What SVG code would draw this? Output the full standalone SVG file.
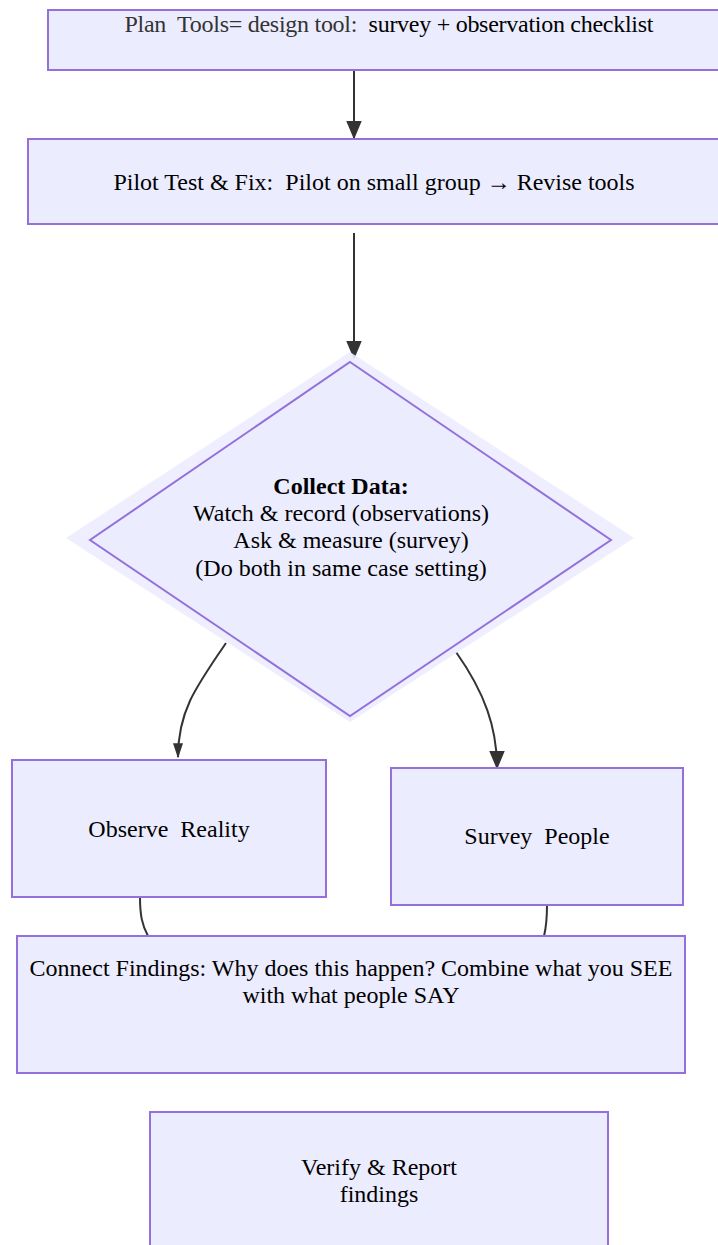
<svg xmlns="http://www.w3.org/2000/svg" width="718" height="1245" viewBox="0 0 718 1245">
<style>
.box{fill:#ECECFF;stroke:#9370DB;stroke-width:2}
.t{font-family:"Liberation Serif","Times New Roman",serif;font-size:24px;fill:#000;text-anchor:middle;white-space:pre}
.e{fill:none;stroke:#333;stroke-width:2}
</style>
<defs>
<marker id="ahb" viewBox="0 0 12 10" refX="11" refY="5" markerWidth="19" markerHeight="16" markerUnits="userSpaceOnUse" orient="auto">
<path d="M0,0 L12,5 L0,10 z" fill="#333"/>
</marker>
<marker id="ahs" viewBox="0 0 12 8" refX="11" refY="4" markerWidth="15" markerHeight="10" markerUnits="userSpaceOnUse" orient="auto">
<path d="M0,0 L12,4 L0,8 z" fill="#333"/>
</marker>
</defs>
<g id="connectors">
<path class="e" d="M354,70 L354,138" marker-end="url(#ahb)"/>
<path class="e" d="M354,233 L354,358" marker-end="url(#ahb)"/>
<path class="e" d="M226,643 C195,688 178,712 178,757" marker-end="url(#ahs)"/>
<path class="e" d="M456,652 C485,693 497,728 497,768" marker-end="url(#ahb)"/>
<path class="e" d="M140,897 C140,915 142,925 148,936"/>
<path class="e" d="M547,905 C547,920 546,928 544,936"/>
</g>
<g id="plan">
<rect class="box" x="48" y="10" width="690" height="60"/>
<text class="t" x="389" y="32" xml:space="preserve" textLength="529" lengthAdjust="spacing"><tspan fill="#333">Plan  Tools= design tool:</tspan>  survey + observation checklist</text>
</g>
<g id="pilot">
<rect class="box" x="28" y="139" width="710" height="85"/>
<text class="t" x="374" y="190" xml:space="preserve">Pilot Test &amp; Fix:  Pilot on small group → Revise tools</text>
</g>
<g id="collect">
<polygon points="350,352 634,538 350,722 66,538" fill="#ECECFF" opacity="0.9"/>
<polygon points="350,362 611,540 350,716 90,540" class="box"/>
<text class="t" x="341" y="494" font-weight="bold">Collect Data:</text>
<text class="t" x="341" y="521">Watch &amp; record (observations)</text>
<text class="t" x="351" y="548">Ask &amp; measure (survey)</text>
<text class="t" x="341" y="576">(Do both in same case setting)</text>
</g>
<g id="observe">
<rect class="box" x="12" y="760" width="314" height="137"/>
<text class="t" x="169" y="837" xml:space="preserve">Observe  Reality</text>
</g>
<g id="survey">
<rect class="box" x="391" y="768" width="292" height="137"/>
<text class="t" x="537" y="844" xml:space="preserve">Survey  People</text>
</g>
<g id="connect">
<rect class="box" x="17" y="936" width="668" height="137"/>
<text class="t" x="351" y="976">Connect Findings: Why does this happen? Combine what you SEE</text>
<text class="t" x="351" y="1003">with what people SAY</text>
</g>
<g id="verify">
<rect class="box" x="150" y="1112" width="458" height="150"/>
<text class="t" x="379" y="1175">Verify &amp; Report</text>
<text class="t" x="379" y="1202">findings</text>
</g>
</svg>
